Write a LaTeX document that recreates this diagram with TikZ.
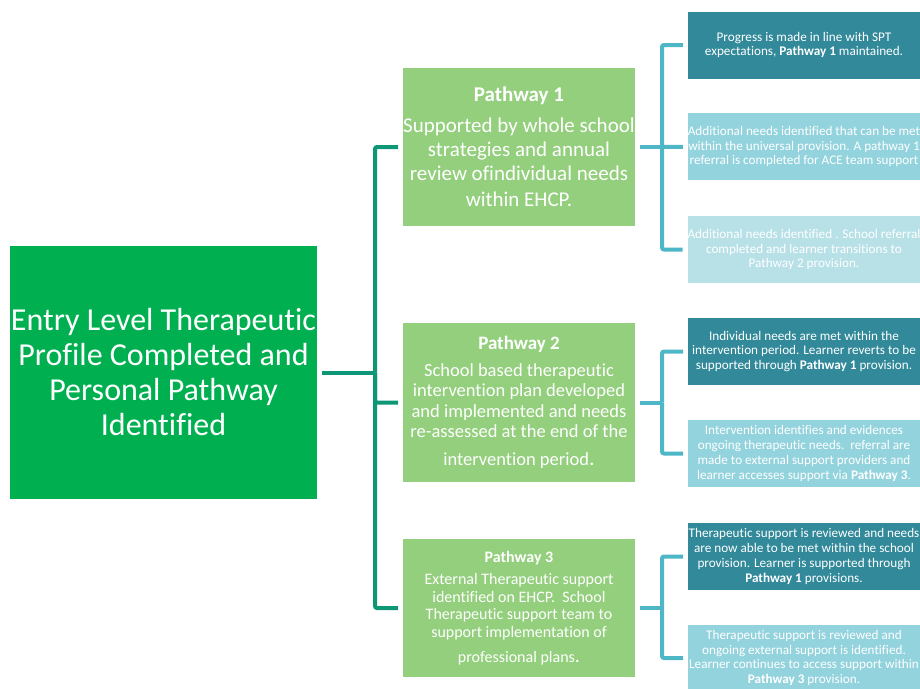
\documentclass[tikz,border=0pt]{standalone}
\usepackage{fontspec}
\setmainfont{Carlito}[Ligatures=NoCommon]
\usepackage{tikz}
\usepackage{xcolor}
\definecolor{RootGreen}{HTML}{00B050}
\definecolor{PathGreen}{HTML}{93CF7D}
\definecolor{TrunkGreen}{HTML}{0E9777}
\definecolor{BranchBlue}{HTML}{4DB7C7}
\definecolor{DarkTeal}{HTML}{31899A}
\definecolor{MidTeal}{HTML}{93D3DD}
\definecolor{PaleTeal}{HTML}{B7E1E7}
\newcommand\noderoot{Entry Level Therapeutic\\Profile Completed and\\Personal Pathway\\Identified}
\newcommand\nodepa{{\fontsize{21}{22}\selectfont\bfseries Pathway 1}\\[7pt]Supported by whole school\\strategies and annual\\review ofindividual needs\\[2pt]within EHCP.}
\newcommand\nodepb{{\fontsize{19}{20}\selectfont\bfseries Pathway 2}\\[6pt]School based therapeutic\\intervention plan developed\\and implemented and needs\\re-assessed at the end of the\\[7pt]intervention period{\fontsize{22}{22}\selectfont.}}
\newcommand\nodepc{{\fontsize{16}{17}\selectfont\bfseries Pathway 3}\\[5pt]External Therapeutic support\\identified on EHCP.\ \ School\\Therapeutic support team to\\support implementation of\\[8pt]professional plans{\fontsize{20}{20}\selectfont.}}
\newcommand\nodera{Progress is made in line with SPT\\expectations, \textbf{Pathway 1} maintained.}
\newcommand\noderb{Additional needs identified that can be met\\within the universal provision. A pathway 1\\referral is completed for ACE team support}
\newcommand\noderc{Additional needs identified . School referral\\completed and learner transitions to\\Pathway 2 provision.}
\newcommand\noderd{Individual needs are met within the\\intervention period. Learner reverts to be\\supported through \textbf{Pathway 1} provision.}
\newcommand\nodere{Intervention identifies and evidences\\ongoing therapeutic needs.\ \ referral are\\made to external support providers and\\learner accesses support via \textbf{Pathway 3}.}
\newcommand\noderf{Therapeutic support is reviewed and needs\\are now able to be met within the school\\provision. Learner is supported through\\\textbf{Pathway 1} provisions.}
\newcommand\noderg{Therapeutic support is reviewed and\\ongoing external support is identified.\\Learner continues to access support within\\\textbf{Pathway 3} provision.}
\tikzstyle{boxstyle} = [rectangle, inner sep=0pt, outer sep=5pt, align=center, text=white]
\tikzstyle{rootbox} = [boxstyle, fill=RootGreen, minimum width=307pt, minimum height=253pt, font=\fontsize{32}{35}\selectfont]
\tikzstyle{pathbox} = [boxstyle, fill=PathGreen, minimum width=232pt]
\tikzstyle{resbox} = [boxstyle, minimum width=232pt, minimum height=67pt, font=\fontsize{13.2}{14.8}\selectfont]
\tikzstyle{trunk} = [draw=TrunkGreen, rounded corners=2pt]
\tikzstyle{branch} = [draw=BranchBlue, rounded corners=2pt]
\tikzset{x=1pt, y=-1pt, every picture/.style={line width=4pt}}

\begin{document}
\begin{tikzpicture}
\useasboundingbox (0,0) rectangle (920,688);
\node[rootbox] (root) at (163.5, 372.5) {\noderoot};
\node[pathbox, minimum height=158pt, font=\fontsize{21}{24}\selectfont] (pa) at (519, 147) {\nodepa};
\node[pathbox, minimum height=159pt, font=\fontsize{18.5}{20.5}\selectfont] (pb) at (519, 402.5) {\nodepb};
\node[pathbox, minimum height=138pt, font=\fontsize{16}{17.5}\selectfont] (pc) at (519, 608) {\nodepc};
\node[resbox, fill=DarkTeal] (ra) at (804, 45) {\nodera};
\node[resbox, fill=MidTeal] (rb) at (804, 146.5) {\noderb};
\node[resbox, fill=PaleTeal] (rc) at (804, 249.5) {\noderc};
\node[resbox, fill=DarkTeal] (rd) at (804, 351.5) {\noderd};
\node[resbox, fill=MidTeal] (re) at (804, 453.5) {\nodere};
\node[resbox, fill=DarkTeal] (rf) at (804, 556.5) {\noderf};
\node[resbox, fill=MidTeal] (rg) at (804, 658) {\noderg};
\coordinate (hub) at (375, 372.5);
\coordinate (ja) at (662, 147);
\coordinate (jb) at (662, 402.5);
\coordinate (jc) at (662, 608);
\draw[trunk] (root) -- (hub);
\draw[trunk] (pa.west) -| (hub);
\draw[trunk] (pb.west) -| (hub);
\draw[trunk] (pc.west) -| (hub);
\draw[branch] (pa) -- (ja);
\draw[branch] (ra.west) -| (ja);
\draw[branch] (rb) -- (ja);
\draw[branch] (rc.west) -| (ja);
\draw[branch] (pb) -- (jb);
\draw[branch] (rd.west) -| (jb);
\draw[branch] (re.west) -| (jb);
\draw[branch] (pc) -- (jc);
\draw[branch] (rf.west) -| (jc);
\draw[branch] (rg.west) -| (jc);
\end{tikzpicture}
\end{document}
